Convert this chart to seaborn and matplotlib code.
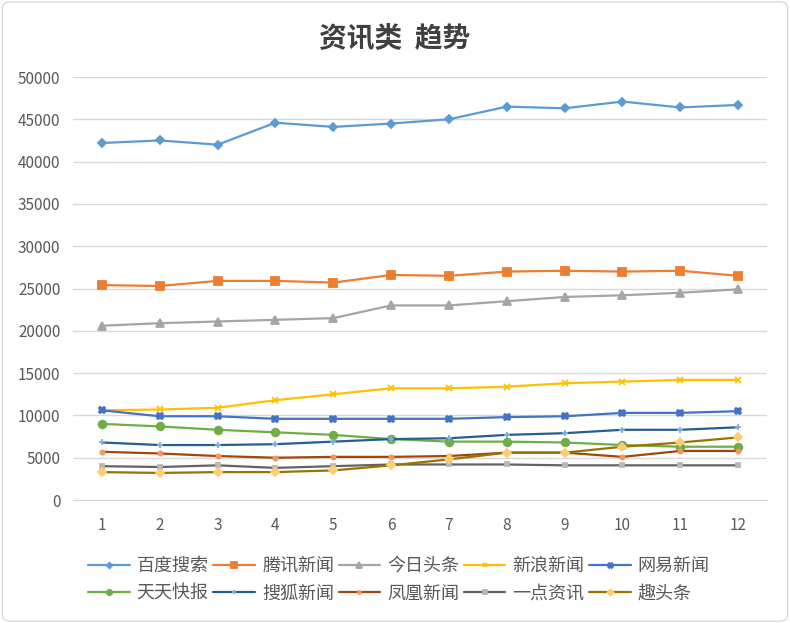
import pandas as pd
import seaborn as sns
import matplotlib.pyplot as plt
from matplotlib.patches import FancyBboxPatch

months = list(range(1, 13))

baidu = [42200, 42500, 42000, 44600, 44100, 44500, 45000, 46500, 46300, 47100, 46400, 46700]
tencent = [25400, 25300, 25900, 25900, 25700, 26600, 26500, 27000, 27100, 27000, 27100, 26500]
toutiao = [20600, 20900, 21100, 21300, 21500, 23000, 23000, 23500, 24000, 24200, 24500, 24900]
sina = [10600, 10700, 10900, 11800, 12500, 13200, 13200, 13400, 13800, 14000, 14200, 14200]
netease = [10600, 9900, 9900, 9600, 9600, 9600, 9600, 9800, 9900, 10300, 10300, 10500]
tiantian = [9000, 8700, 8300, 8000, 7700, 7200, 6900, 6900, 6800, 6500, 6300, 6300]
sohu = [6800, 6500, 6500, 6600, 6900, 7200, 7300, 7700, 7900, 8300, 8300, 8600]
ifeng = [5700, 5500, 5200, 5000, 5100, 5100, 5200, 5600, 5600, 5100, 5800, 5800]
yidian = [4000, 3900, 4100, 3800, 4000, 4200, 4200, 4200, 4100, 4100, 4100, 4100]
qutoutiao = [3300, 3200, 3300, 3300, 3500, 4100, 4800, 5600, 5600, 6300, 6800, 7400]

names = ['百度搜索', '腾讯新闻', '今日头条', '新浪新闻', '网易新闻',
         '天天快报', '搜狐新闻', '凤凰新闻', '一点资讯', '趣头条']
series = [baidu, tencent, toutiao, sina, netease,
          tiantian, sohu, ifeng, yidian, qutoutiao]

line_colors = ['#5B9BD5', '#ED7D31', '#A5A5A5', '#FFC000', '#4472C4',
               '#70AD47', '#255E91', '#9E480E', '#636363', '#997300']
marker_colors = ['#5B9BD5', '#ED7D31', '#A5A5A5', '#FFC000', '#4472C4',
                 '#70AD47', '#7CAFDD', '#F1975A', '#B7B7B7', '#FFCD6F']
markers = ['D', 's', '^', 'x', 'X', 'o', '+', 'o', 's', 'D']
msizes = [4, 5.5, 5.5, 4.5, 5, 5.5, 5, 3, 3.5, 4.5]

rows = []
for name, vals in zip(names, series):
    for m, v in zip(months, vals):
        rows.append({'month': m, 'value': v, 'name': name})
df = pd.DataFrame(rows)

sns.set_style('white')
plt.rcParams['font.family'] = ['Noto Sans CJK SC', 'DejaVu Sans']

fig = plt.figure(figsize=(7.9, 6.23), dpi=100)
ax = fig.add_axes([0.0924, 0.1974, 0.8786, 0.679])

for i, name in enumerate(names):
    sub = df[df['name'] == name]
    sns.lineplot(data=sub, x='month', y='value', ax=ax, color=line_colors[i],
                 linewidth=1.6, marker=markers[i], markersize=msizes[i],
                 markerfacecolor=marker_colors[i], markeredgecolor=marker_colors[i],
                 markeredgewidth=1.3, label=name)

ax.set_xlim(0.5, 12.5)
ax.set_ylim(0, 50000)
ax.set_xticks(months)
ax.set_yticks(range(0, 50001, 5000))
ax.yaxis.grid(True, color='#D9D9D9', linewidth=1)
ax.set_axisbelow(True)
for s in ['top', 'right', 'left']:
    ax.spines[s].set_visible(False)
ax.spines['bottom'].set_color('#D9D9D9')
ax.tick_params(axis='both', colors='#595959', labelsize=11, length=0)
ax.tick_params(axis='y', pad=9)
ax.tick_params(axis='x', pad=12)
ax.set_xlabel('')
ax.set_ylabel('')

fig.text(0.5, 0.938, '资讯类  趋势', ha='center', va='center',
         fontsize=20, fontweight='bold', color='#404040')

# move legend from axes to the bottom, 2 rows of 5
handles, labels = ax.get_legend_handles_labels()
ax.get_legend().remove()
order = [0, 5, 1, 6, 2, 7, 3, 8, 4, 9]
fig.legend([handles[k] for k in order], [labels[k] for k in order],
           ncol=5, loc='upper left', bbox_to_anchor=(88 / 790, 1 - 557 / 623),
           frameon=False, fontsize=13, labelcolor='#595959', markerscale=0.7,
           handlelength=2.3, columnspacing=0.25, handletextpad=0.4,
           labelspacing=0.52, borderpad=0, borderaxespad=0)

border = FancyBboxPatch((0.003, 0.003), 0.994, 0.994, boxstyle='round,pad=0,rounding_size=0.01',
                        transform=fig.transFigure, fill=False, edgecolor='#D9D9D9', linewidth=1)
fig.patches.append(border)

fig.savefig('out.png', dpi=100)
